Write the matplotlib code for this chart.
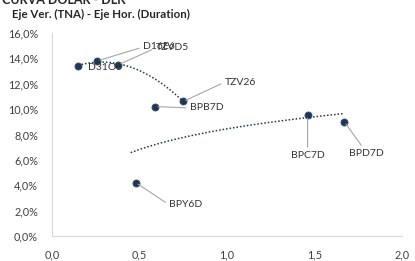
import numpy as np
import matplotlib
matplotlib.use("Agg")
import matplotlib.pyplot as plt
from matplotlib.ticker import FuncFormatter

# datos
tickers = ["D31O5", "D16E6", "TZVD5", "TZV26", "BPB7D", "BPC7D", "BPD7D", "BPY6D"]
duration = [0.15, 0.26, 0.38, 0.75, 0.59, 1.46, 1.67, 0.48]
tna = [13.4, 13.8, 13.5, 10.6, 10.2, 9.5, 9.0, 4.2]

dl_idx = [0, 1, 2, 3]       # curva dolar linked
bp_idx = [4, 5, 6, 7]       # bopreal

# desplazamiento de etiquetas (puntos), alineacion y punto de la guia
offsets = {
    "D31O5": (7, -1, "left", None),
    "D16E6": (33, 10, "left", (0, 0.5)),
    "TZVD5": (27, 12, "left", (0, 0.5)),
    "TZV26": (30, 14, "left", (0, 0.5)),
    "BPB7D": (25, -1, "left", (0, 0.5)),
    "BPC7D": (0, -29, "center", (0.5, 1)),
    "BPD7D": (3, -23, "left", (0.45, 1)),
    "BPY6D": (24, -16, "left", (0, 0.5)),
}

navy = "#1f3650"
plt.rcParams['font.family'] = ['Lato', 'DejaVu Sans']

fig = plt.figure(figsize=(4.15, 2.61), dpi=100)
ax = fig.add_axes([0.125, 0.0958, 0.844, 0.778])

# lineas de tendencia (estilo excel)
x1 = np.array([duration[i] for i in dl_idx])
y1 = np.array([tna[i] for i in dl_idx])
p = np.polyfit(x1, y1, 2)
xx = np.linspace(x1.min(), x1.max(), 100)
ax.plot(xx, np.polyval(p, xx), color=navy, lw=1.1, ls=(0, (1, 1.3)), zorder=2)

x2 = np.array([duration[i] for i in bp_idx])
y2 = np.array([tna[i] for i in bp_idx])
b, a = np.polyfit(np.log(x2), y2, 1)
xx = np.linspace(x2.min() - 0.03, x2.max(), 100)
ax.plot(xx, a + b * np.log(xx), color=navy, lw=1.1, ls=(0, (1, 1.3)), zorder=2)

ax.scatter(duration, tna, s=26, color=navy, edgecolor="#3b5573", lw=0.6, zorder=3)

for t, x, y in zip(tickers, duration, tna):
    dx, dy, ha, rel = offsets[t]
    arrow = None
    if rel is not None:
        arrow = dict(arrowstyle="-", color="#a6a6a6", lw=0.8,
                     shrinkA=1, shrinkB=2, relpos=rel)
    ax.annotate(t, (x, y), xytext=(dx, dy), textcoords="offset points",
                ha=ha, va="center", fontsize=7.5, color="#333333",
                arrowprops=arrow)

ax.set_xlim(0, 2)
ax.set_ylim(0, 16)
ax.set_xticks(np.arange(0, 2.01, 0.5))
ax.set_yticks(np.arange(0, 16.1, 2))
ax.xaxis.set_major_formatter(FuncFormatter(lambda v, _: f"{v:.1f}".replace(".", ",")))
ax.yaxis.set_major_formatter(FuncFormatter(lambda v, _: f"{v:.1f}%".replace(".", ",")))
ax.tick_params(length=0, labelsize=7.8, labelcolor="#404040")
ax.tick_params(axis="x", pad=10)
ax.tick_params(axis="y", pad=10)
for s in ["top", "right"]:
    ax.spines[s].set_visible(False)
for s in ["left", "bottom"]:
    ax.spines[s].set_color("#d9d9d9")

fig.text(0.005, 1 - 4 / 261, "CURVA DÓLAR - DLK", fontsize=9, fontweight="bold",
         color="#262626", va="baseline", ha="left")
fig.text(0.028, 1 - 14 / 261, "Eje Ver. (TNA) - Eje Hor. (Duration)", fontsize=8.3,
         fontweight="bold", color="#262626", va="center", ha="left")

fig.savefig("out.png", dpi=100)
